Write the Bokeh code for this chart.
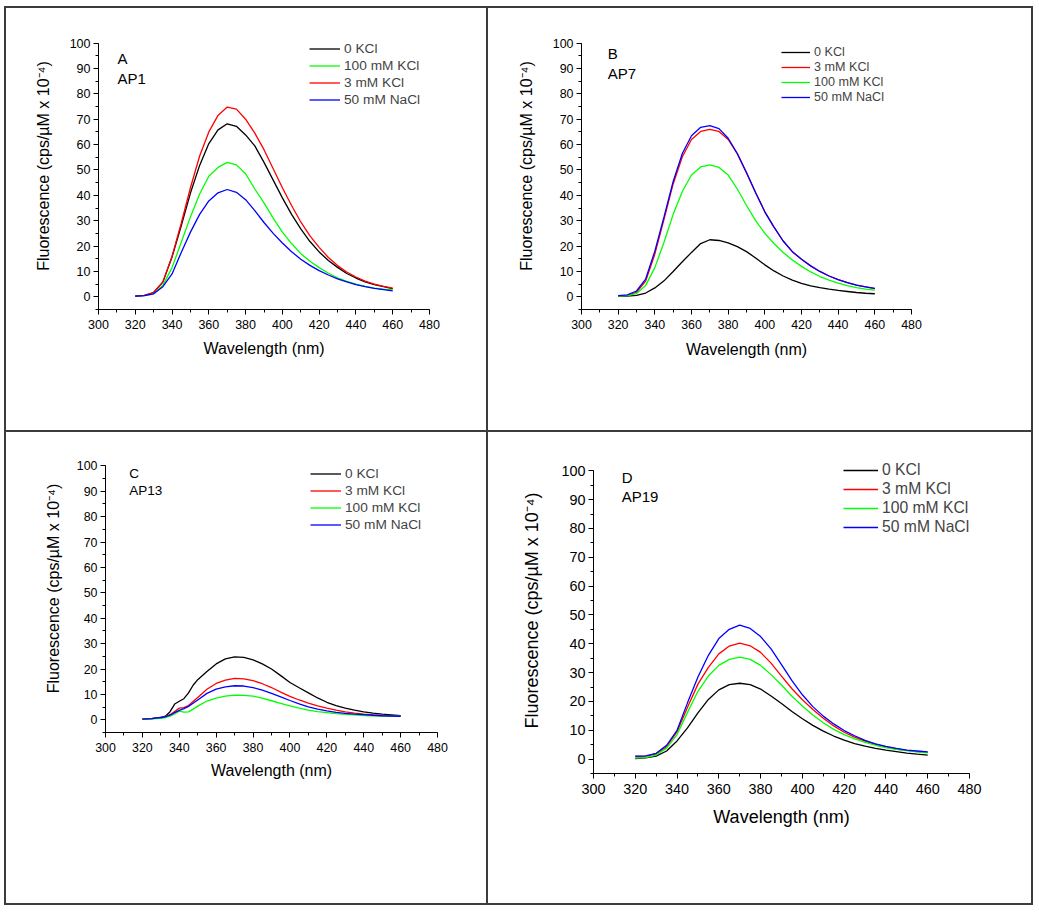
from bokeh.plotting import figure
from bokeh.models import (Range1d, SingleIntervalTicker, Legend, LegendItem, Label, Spacer)
from bokeh.layouts import row, column
from bokeh.embed import file_html
from bokeh.resources import INLINE

FONT = "Liberation Sans"

# ---------------- data ----------------
wl = [320, 325, 330, 335, 340, 345, 350, 355, 360, 365, 370, 375, 380, 385, 390,
      395, 400, 405, 410, 415, 420, 425, 430, 435, 440, 445, 450, 455, 460]
wl_c = [320, 325, 330, 332.5, 335, 337.5, 340, 342.5, 345, 347.5, 350, 355, 360, 365,
        370, 375, 380, 385, 390, 395, 400, 405, 410, 415, 420, 425, 430, 435, 440,
        445, 450, 455, 460]

# Panel A  (AP1)
a_0kcl = [0.3, 0.6, 1.7, 5.8, 15.7, 28.0, 40.9, 51.8, 60.4, 65.8, 68.2, 67.2, 63.8, 59.5, 53.0,
          46.0, 39.0, 32.5, 26.8, 21.8, 17.7, 14.3, 11.6, 9.2, 7.4, 5.9, 4.8, 4.0, 3.2]
a_100kcl = [0.3, 0.5, 1.3, 4.5, 11.5, 21.5, 31.5, 40.5, 47.5, 51.0, 53.0, 52.0, 48.5, 42.5, 37.0,
            31.0, 25.5, 21.0, 17.0, 14.0, 11.5, 9.3, 7.5, 6.1, 5.0, 4.1, 3.4, 3.0, 2.7]
a_3kcl = [0.3, 0.6, 1.7, 5.9, 16.0, 29.0, 43.0, 55.5, 65.0, 71.5, 74.8, 74.0, 70.0, 64.5, 58.0,
          50.5, 43.0, 36.0, 29.5, 24.0, 19.5, 15.5, 12.3, 9.8, 7.8, 6.2, 5.0, 4.1, 3.4]
a_50nacl = [0.3, 0.5, 1.2, 4.0, 9.0, 17.5, 25.5, 32.5, 37.8, 41.0, 42.3, 41.2, 38.3, 34.0, 29.3,
            25.0, 21.2, 17.8, 14.8, 12.4, 10.3, 8.6, 7.1, 5.9, 4.8, 4.0, 3.3, 2.8, 2.3]

# Panel B  (AP7)
b_0kcl = [0.2, 0.3, 0.6, 1.5, 3.5, 6.3, 10.0, 13.8, 17.5, 21.0, 22.5, 22.2, 21.3, 19.8, 17.8,
          15.3, 12.6, 10.2, 8.2, 6.6, 5.3, 4.3, 3.6, 3.0, 2.5, 2.1, 1.7, 1.4, 1.2]
b_3kcl = [0.3, 0.6, 1.8, 6.2, 16.8, 30.5, 44.5, 55.2, 62.0, 65.2, 66.0, 65.2, 62.0, 56.3, 48.8,
          41.0, 33.5, 27.5, 22.0, 17.8, 14.8, 12.2, 10.0, 8.2, 6.8, 5.6, 4.6, 3.9, 3.2]
b_100kcl = [0.3, 0.5, 1.3, 4.5, 11.5, 21.5, 32.5, 41.5, 48.0, 51.2, 52.0, 51.0, 48.0, 42.5, 36.0,
            30.0, 25.0, 21.0, 17.5, 14.5, 12.0, 9.8, 8.0, 6.6, 5.4, 4.4, 3.6, 3.0, 2.6]
b_50nacl = [0.5, 0.8, 2.3, 7.0, 18.0, 31.5, 45.5, 56.5, 63.5, 66.8, 67.5, 66.3, 62.5, 56.5, 49.0,
            41.0, 33.5, 27.5, 22.0, 17.8, 14.8, 12.2, 10.0, 8.2, 6.8, 5.6, 4.6, 3.9, 3.3]

# Panel C  (AP13)
c_0kcl = [0.3, 0.5, 0.9, 1.4, 3.2, 6.2, 7.3, 8.3, 10.6, 13.6, 15.8, 19.0, 22.0, 24.0, 24.8, 24.6,
          23.6, 22.0, 20.0, 17.4, 14.7, 12.6, 10.6, 8.6, 6.9, 5.6, 4.6, 3.8, 3.1, 2.6, 2.2, 1.9, 1.6]
c_3kcl = [0.3, 0.5, 0.9, 1.3, 2.0, 3.3, 4.6, 4.8, 5.6, 7.2, 8.8, 12.0, 14.3, 15.6, 16.3, 16.1,
          15.4, 14.2, 12.7, 10.9, 9.2, 7.8, 6.6, 5.5, 4.6, 3.8, 3.1, 2.6, 2.2, 1.9, 1.7, 1.5, 1.4]
c_100kcl = [0.3, 0.4, 0.6, 0.9, 1.4, 2.3, 3.4, 3.0, 3.1, 4.2, 5.4, 7.4, 8.5, 9.3, 9.7, 9.6,
            9.3, 8.5, 7.5, 6.5, 5.5, 4.6, 3.8, 3.2, 2.8, 2.4, 2.1, 1.9, 1.7, 1.6, 1.5, 1.45, 1.4]
c_50nacl = [0.3, 0.5, 0.9, 1.2, 1.8, 2.8, 3.7, 4.4, 5.3, 6.5, 7.8, 10.4, 12.1, 13.0, 13.4, 13.3,
            12.7, 11.7, 10.4, 9.0, 7.6, 6.3, 5.1, 4.2, 3.5, 2.9, 2.5, 2.2, 2.0, 1.8, 1.6, 1.5, 1.4]

# Panel D  (AP19)
d_0kcl = [0.2, 0.4, 1.0, 2.8, 6.3, 10.8, 16.0, 20.7, 24.0, 25.8, 26.3, 25.8, 24.3, 21.9, 19.3,
          16.5, 14.0, 11.7, 9.7, 8.0, 6.6, 5.4, 4.5, 3.7, 3.1, 2.6, 2.1, 1.7, 1.4]
d_3kcl = [0.9, 1.0, 1.8, 4.3, 9.5, 18.0, 26.0, 31.8, 36.5, 39.2, 40.2, 39.3, 37.0, 33.3, 28.8,
          24.4, 20.6, 17.2, 14.2, 11.5, 9.3, 7.6, 6.2, 5.1, 4.2, 3.5, 3.0, 2.6, 2.3]
d_100kcl = [0.3, 0.5, 1.4, 3.8, 8.5, 16.2, 23.5, 28.8, 32.5, 34.6, 35.4, 34.6, 32.5, 29.3, 25.7,
            21.8, 18.4, 15.3, 12.6, 10.3, 8.5, 7.0, 5.8, 4.8, 4.0, 3.4, 2.9, 2.5, 2.2]
d_50nacl = [1.0, 1.1, 2.0, 4.8, 10.0, 19.5, 28.5, 36.0, 41.8, 45.0, 46.5, 45.3, 42.5, 38.2, 32.8,
            27.2, 22.3, 18.2, 14.9, 12.2, 9.9, 8.1, 6.5, 5.3, 4.4, 3.7, 3.1, 2.8, 2.5]

panel_letters = ["A", "B", "C", "D"]
panel_names = ["AP1", "AP7", "AP13", "AP19"]
x_label = "Wavelength (nm)"
y_label = "Fluorescence (cps/\u00b5M x 10\u207b\u2074)"

BLACK, RED, GREEN, BLUE = "#000000", "#ff0000", "#00ff00", "#0000ff"
RULE = "#3c3c3c"


def make_panel(cfg):
    H = cfg["h"]
    fh = H - cfg["mt"] - cfg["mb"]
    y_end = -5 + fh / cfg["s"]
    p = figure(width=cfg["w"], height=H,
               x_range=Range1d(300, 480), y_range=Range1d(-5, y_end),
               output_backend="svg", toolbar_location=None,
               min_border_left=cfg["ml"], min_border_right=cfg["mr"],
               min_border_top=cfg["mt"], min_border_bottom=cfg["mb"])
    p.xgrid.visible = False
    p.ygrid.visible = False
    p.outline_line_color = None
    p.background_fill_color = "white"
    p.border_fill_color = "white"

    p.xaxis.ticker = SingleIntervalTicker(interval=20, num_minor_ticks=2)
    p.yaxis.ticker = SingleIntervalTicker(interval=10, num_minor_ticks=2)
    p.yaxis.bounds = (-5, 100)
    for ax in (p.xaxis[0], p.yaxis[0]):
        ax.axis_line_color = "black"
        ax.axis_line_width = 1
        ax.major_tick_line_color = "black"
        ax.minor_tick_line_color = "black"
        ax.major_tick_out = 5
        ax.major_tick_in = 0
        ax.minor_tick_out = 3
        ax.minor_tick_in = 0
        ax.major_label_text_font = FONT
        ax.major_label_text_font_size = cfg["tick_fs"]
        ax.major_label_text_color = "black"
        ax.axis_label_text_font = FONT
        ax.axis_label_text_font_size = cfg["lab_fs"]
        ax.axis_label_text_font_style = "normal"
        ax.axis_label_text_color = "black"
    p.xaxis.major_label_standoff = 5
    p.yaxis.major_label_standoff = 3
    p.xaxis.axis_label = x_label
    p.yaxis.axis_label = y_label
    p.xaxis.axis_label_standoff = cfg["xstand"]
    p.yaxis.axis_label_standoff = cfg["ystand"]

    items = []
    for label, color, ys in cfg["series"]:
        r = p.line(cfg["x"], ys, line_color=color, line_width=1.3)
        items.append(LegendItem(label=label, renderers=[r]))
    lh = cfg["leg_h"]
    legend = Legend(items=items, location=cfg["leg_loc"],
                    border_line_color=None, background_fill_alpha=0,
                    padding=0, margin=0, spacing=cfg["leg_sp"],
                    glyph_width=cfg["leg_gw"], glyph_height=lh, label_height=lh,
                    label_standoff=4, label_text_font=FONT,
                    label_text_font_size=cfg["leg_fs"])
    p.add_layout(legend)

    lx, ly1, ly2 = cfg["tag"]
    p.add_layout(Label(x=lx, y=ly1, text=cfg["letter"], text_font=FONT,
                       text_font_size=cfg["tag_fs"], text_baseline="middle",
                       text_align="left", text_color="black"))
    p.add_layout(Label(x=lx, y=ly2, text=cfg["name"], text_font=FONT,
                       text_font_size=cfg["tag_fs"], text_baseline="middle",
                       text_align="left", text_color="black"))
    return column(p)


pA = make_panel(dict(
    w=480, h=422, ml=92, mr=57, mt=14, mb=121, s=2.537, x=wl,
    tick_fs="12.5px", lab_fs="16px", xstand=8, ystand=15,
    series=[("0 KCl", BLACK, a_0kcl), ("100 mM KCl", GREEN, a_100kcl),
            ("3 mM KCl", RED, a_3kcl), ("50 mM NaCl", BLUE, a_50nacl)],
    leg_loc=(211, 202), leg_sp=2, leg_h=15, leg_gw=31, leg_fs="13.7px",
    tag=(310.3, 93.9, 86.0), tag_fs="15px", letter=panel_letters[0], name=panel_names[0]))

pB = make_panel(dict(
    w=543, h=422, ml=93, mr=120, mt=14, mb=121, s=2.537, x=wl,
    tick_fs="12.4px", lab_fs="16px", xstand=9, ystand=15,
    series=[("0 KCl", BLACK, b_0kcl), ("3 mM KCl", RED, b_3kcl),
            ("100 mM KCl", GREEN, b_100kcl), ("50 mM NaCl", BLUE, b_50nacl)],
    leg_loc=(200, 205), leg_sp=1, leg_h=14, leg_gw=29, leg_fs="12.6px",
    tag=(314.3, 96.1, 88.2), tag_fs="15px", letter=panel_letters[1], name=panel_names[1]))

pC = make_panel(dict(
    w=480, h=471, ml=99, mr=49, mt=12, mb=171, s=2.54, x=wl_c,
    tick_fs="12.4px", lab_fs="16px", xstand=7, ystand=12,
    series=[("0 KCl", BLACK, c_0kcl), ("3 mM KCl", RED, c_3kcl),
            ("100 mM KCl", GREEN, c_100kcl), ("50 mM NaCl", BLUE, c_50nacl)],
    leg_loc=(205, 200), leg_sp=2, leg_h=15, leg_gw=31, leg_fs="13.7px",
    tag=(312.9, 97.0, 90.2), tag_fs="13.5px", letter=panel_letters[2], name=panel_names[2]))

pD = make_panel(dict(
    w=543, h=471, ml=105, mr=62, mt=15, mb=130, s=2.883, x=wl,
    tick_fs="14.4px", lab_fs="18px", xstand=10, ystand=16,
    series=[("0 KCl", BLACK, d_0kcl), ("3 mM KCl", RED, d_3kcl),
            ("100 mM KCl", GREEN, d_100kcl), ("50 mM NaCl", BLUE, d_50nacl)],
    leg_loc=(250, 237), leg_sp=1, leg_h=18, leg_gw=35, leg_fs="15.7px",
    tag=(313.5, 97.6, 91.0), tag_fs="15px", letter=panel_letters[3], name=panel_names[3]))


def hline(w):
    return Spacer(width=w, height=2, styles={"background-color": RULE})


def vline(h):
    return Spacer(width=2, height=h, styles={"background-color": RULE})


block = column(
    hline(1029),
    row(vline(422), pA, vline(422), pB, vline(422)),
    hline(1029),
    row(vline(471), pC, vline(471), pD, vline(471)),
    hline(1029),
)
layout = column(Spacer(width=1033, height=6), row(Spacer(width=4, height=10), block))

open("out.html", "w").write(file_html(layout, INLINE))
